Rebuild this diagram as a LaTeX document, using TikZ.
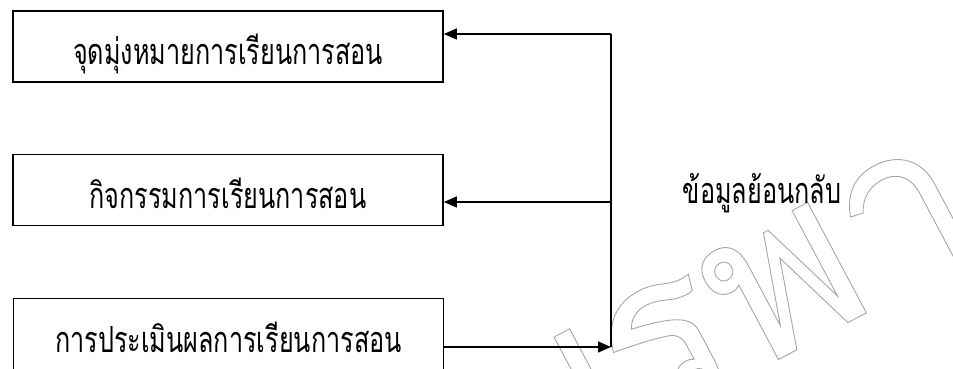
\documentclass[tikz,border=0pt]{standalone}
\usepackage{fontspec}
\newfontfamily\thai[Script=Thai,FakeStretch=0.7]{Loma}
\newfontfamily\thaiwm[Script=Thai]{Loma}
\usetikzlibrary{arrows.meta}
\newcommand\outlinetext[1]{\special{pdf:literal direct 0.9 w 1 Tr}#1\special{pdf:literal direct 0 Tr}}
\tikzset{
  box/.style={draw, line width=1.7pt, minimum width=430pt, minimum height=71pt,
    inner sep=0pt, text height=37pt, text depth=0pt, font=\thai\fontsize{36}{40}\selectfont},
  conn/.style={line width=1.4pt},
  arr/.style={conn, -{Triangle[length=13pt,width=11pt]}},
  lbl/.style={font=\thai\fontsize{36}{40}\selectfont, inner sep=0pt},
  wm/.style={font=\thaiwm\fontsize{225}{235}\selectfont, text=black!35, inner sep=0pt}
}
\begin{document}
\begin{tikzpicture}[x=1pt,y=-1pt]
\useasboundingbox (0,0) rectangle (953,369);
% watermark
\node[wm, rotate=28, anchor=base east] (wmk) at (992,246) {\outlinetext{บูรพา}};
% boxes
\node[box] (b1) at (228,46.5) {จุดมุ่งหมายการเรียนการสอน};
\node[box] (b2) at (228,190) {กิจกรรมการเรียนการสอน};
\node[box] (b3) at (228.5,334) {การประเมินผลการเรียนการสอน};
\node[lbl, anchor=base] (fb) at (762,203) {ข้อมูลย้อนกลับ};
% connectors
\coordinate (top) at (611,34);
\coordinate (mid) at (611,202);
\coordinate (bot) at (611,347);
\draw[conn] (top) -- (bot);
\draw[arr] (top) -- (top -| b1.east);
\draw[arr] (mid) -- (mid -| b2.east);
\draw[arr] (bot -| b3.east) -- (bot);
\end{tikzpicture}
\end{document}
